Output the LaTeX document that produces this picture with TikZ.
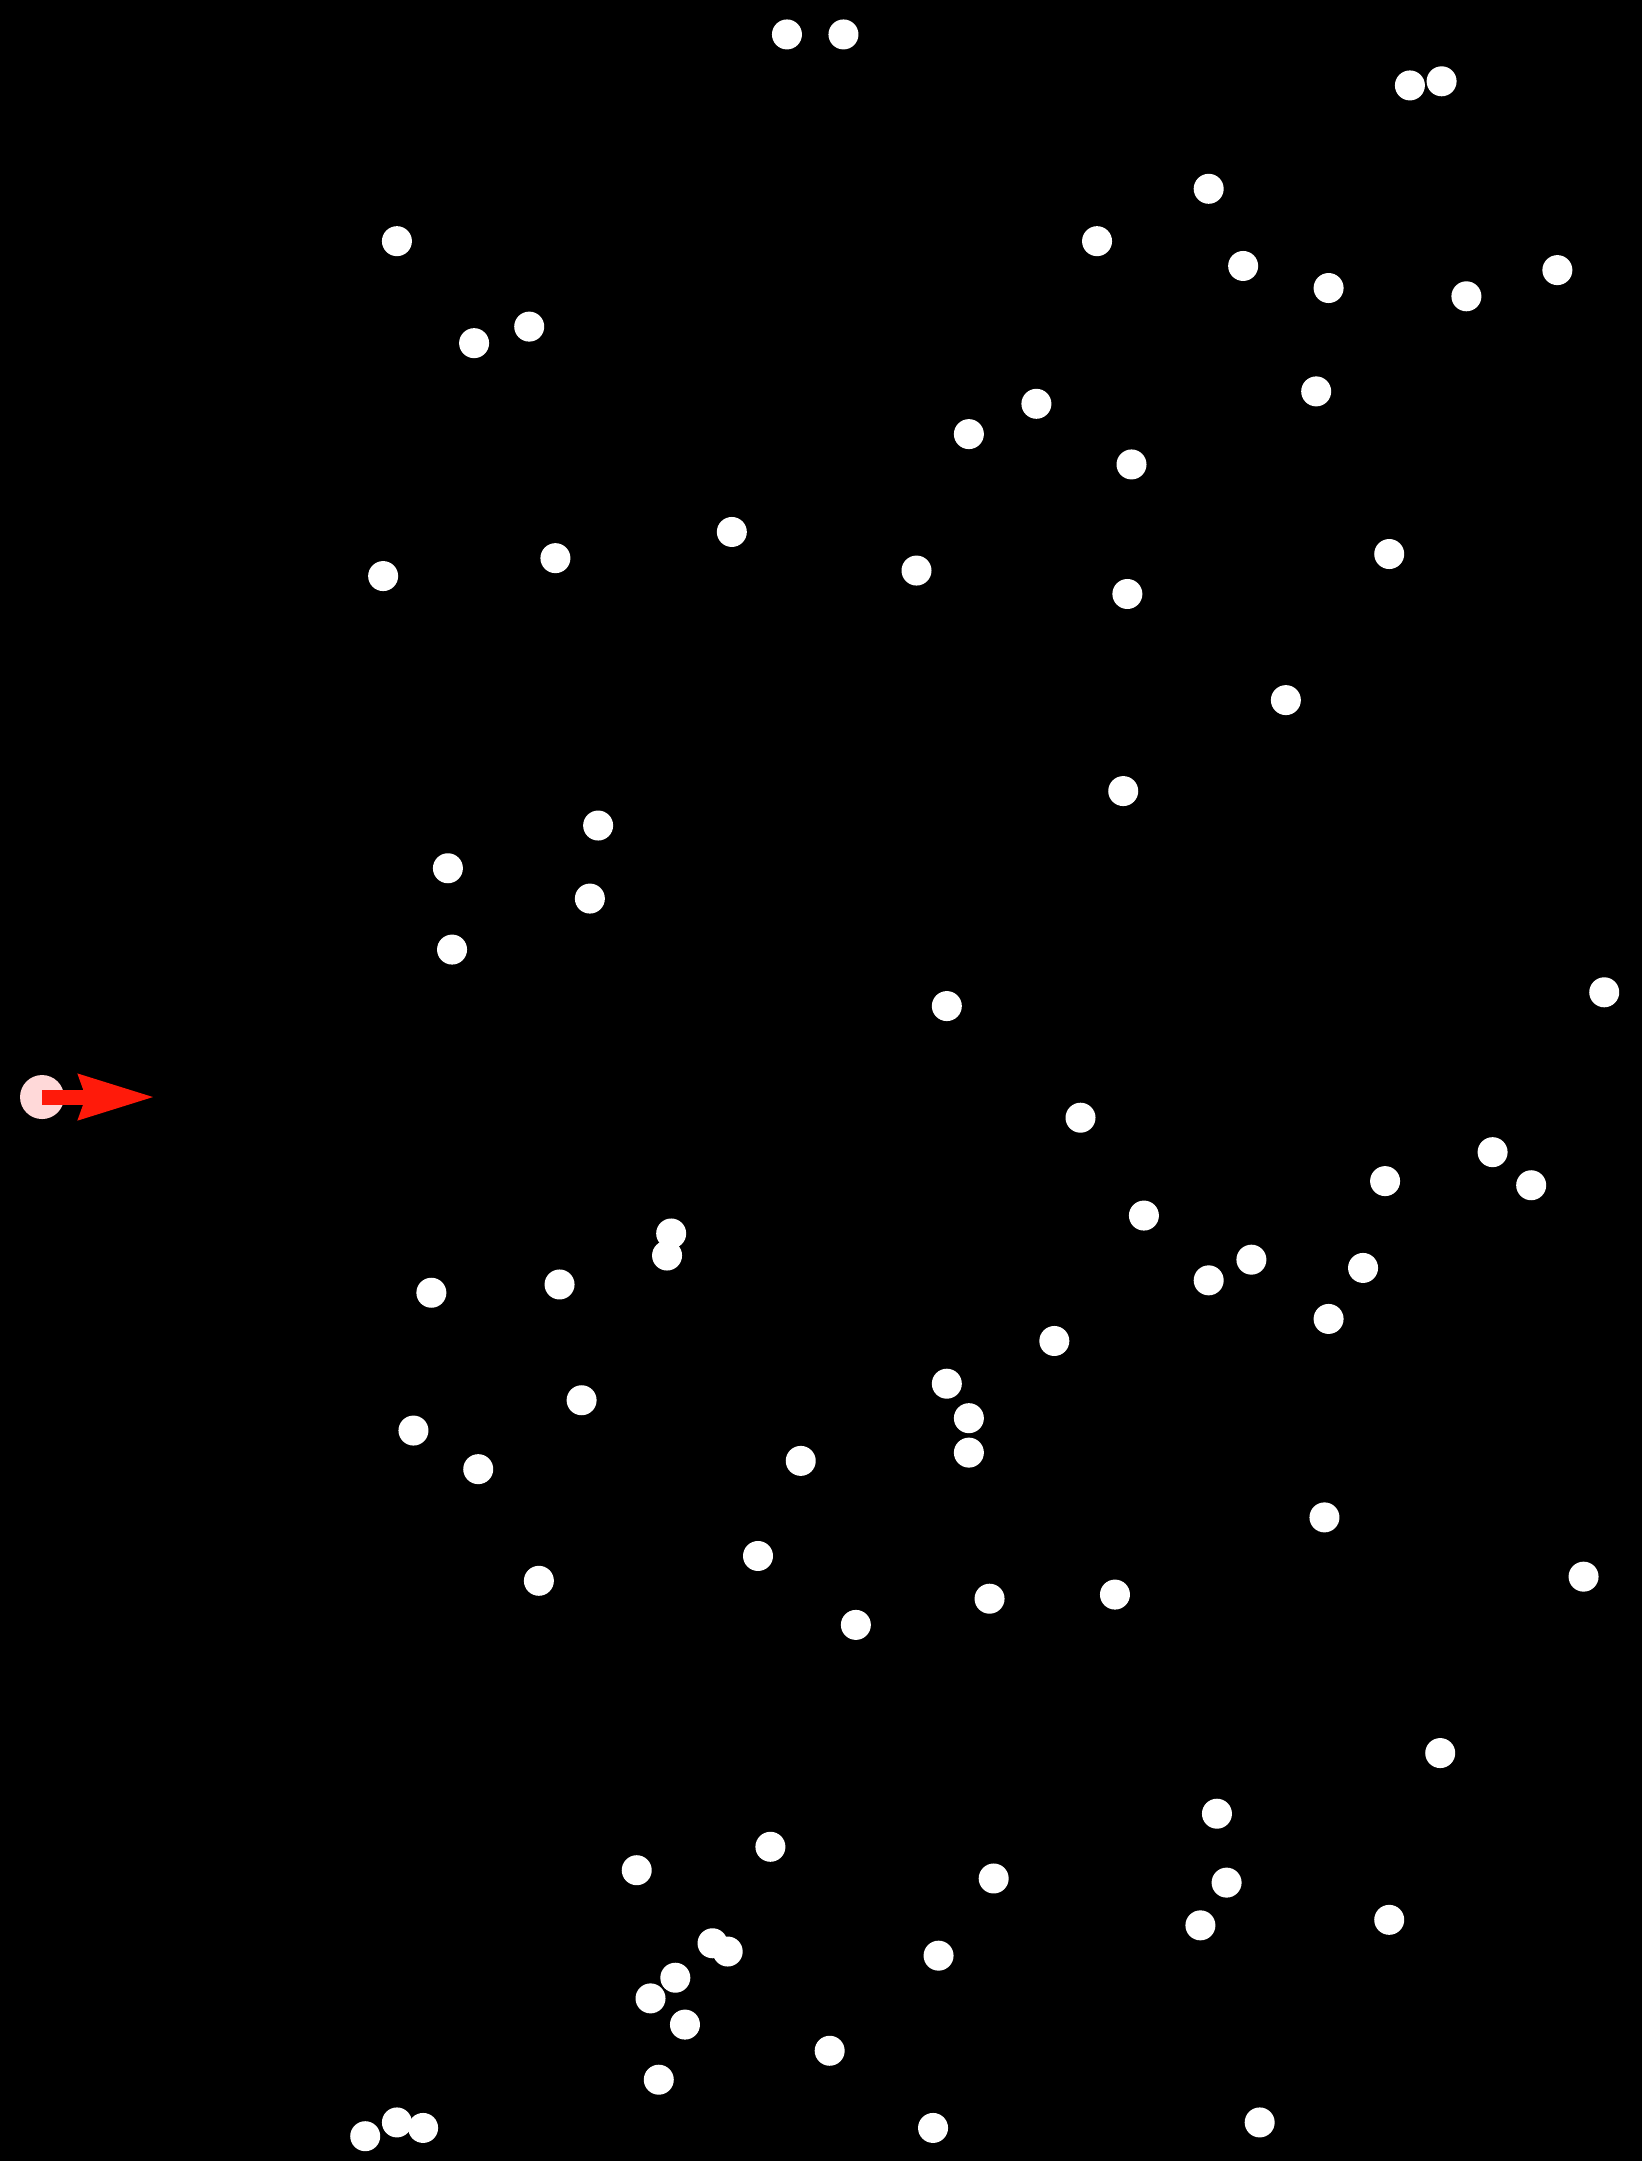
\documentclass[tikz,border=0pt]{standalone}
\usepackage{xcolor}
\usepackage{tikz}
\usetikzlibrary{arrows.meta}
\definecolor{agentpink}{HTML}{FFD9D9}
\definecolor{headred}{HTML}{FF1A0A}

\begin{document}
\begin{tikzpicture}[x=0.13778mm, y=-0.13778mm,
  dot/.style={circle, fill=white, inner sep=0pt, minimum size=3.0mm},
  agentdot/.style={circle, fill=agentpink, inner sep=0pt, minimum size=4.4mm}]
  % background
  \useasboundingbox (0,0) rectangle (1191,1568);
  \fill[black] (-5,-5) rectangle (1196,1573);
  % obstacles
  \foreach \x/\y [count=\i] in {571/25, 612/25, 1023/62, 1046/59, 877/137, 288/175, 796/175,
    902/193, 964/209, 1064/215, 1130/196, 344/249, 384/237, 955/284, 752/293, 703/315,
    821/337, 531/386, 278/418, 403/405, 665/414, 818/431, 1008/402, 933/508, 815/574,
    434/599, 325/630, 428/652, 328/689, 687/730, 1164/720, 784/811, 1083/836, 1005/857,
    1111/860, 830/882, 487/895, 484/911, 313/938, 406/932, 877/929, 908/914, 989/920,
    964/957, 765/973, 687/1004, 703/1029, 703/1054, 422/1016, 300/1038, 347/1066,
    581/1060, 961/1101, 550/1129, 1149/1144, 391/1147, 621/1179, 718/1160, 809/1157,
    1045/1272, 883/1316, 559/1340, 462/1357, 721/1363, 890/1366, 871/1397, 1008/1393,
    517/1410, 528/1416, 490/1435, 472/1450, 681/1419, 497/1469, 602/1488, 478/1509,
    265/1550, 288/1540, 307/1544, 677/1544, 914/1540}
    \node[dot] (d\i) at (\x,\y) {};
  % agent and heading
  \node[agentdot] (agent) at (30.5,796) {};
  \coordinate (heading) at (112.5,796);
  \draw[headred, line width=1.5mm, -{Stealth[length=7.5mm,width=4.3mm,inset=0.6mm]}] (agent.center) -- (heading);
\end{tikzpicture}
\end{document}
